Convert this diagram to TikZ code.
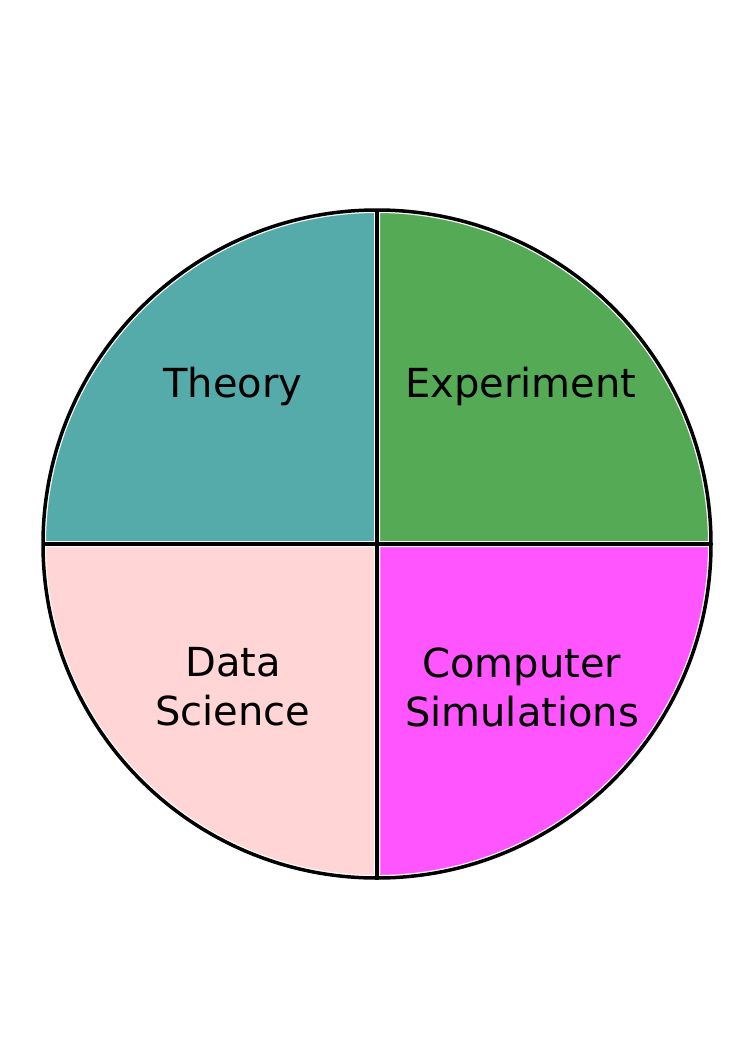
\documentclass[tikz,border=0pt]{standalone}
\usepackage{fontspec}
\setmainfont{DejaVu Sans}
\usetikzlibrary{calc}
\definecolor{theorycol}{HTML}{55AAAA}
\definecolor{expcol}{HTML}{55AA55}
\definecolor{datacol}{HTML}{FFD5D5}
\definecolor{simcol}{HTML}{FF55FF}

\begin{document}
\begin{tikzpicture}[x=1pt, y=-1pt,
        quarter/.style={draw=white, line width=6pt, line join=round},
        rim/.style={draw=black, line width=3.5pt},
        field/.style={align=center, font=\fontsize{40}{49}\selectfont}
    ]
        \useasboundingbox (0,0) rectangle (745,1053);
        \coordinate (c) at (377,544);
        % the four quarters
        \filldraw[quarter, fill=theorycol] (c) -- ++(-334,0) arc[start angle=180, end angle=270, radius=334] -- cycle;
        \filldraw[quarter, fill=expcol] (c) -- ++(0,-334) arc[start angle=270, end angle=360, radius=334] -- cycle;
        \filldraw[quarter, fill=simcol] (c) -- ++(334,0) arc[start angle=0, end angle=90, radius=334] -- cycle;
        \filldraw[quarter, fill=datacol] (c) -- ++(0,334) arc[start angle=90, end angle=180, radius=334] -- cycle;
        % outline and cross
        \draw[rim] (c) circle[radius=334];
        \draw[rim] ($(c)+(-334,0)$) -- ($(c)+(334,0)$);
        \draw[rim] ($(c)+(0,-334)$) -- ($(c)+(0,334)$);
        % labels
        \node[field] (theory) at (233,386) {Theory};
        \node[field] (experiment) at (521,386) {Experiment};
        \node[field] (datasci) at (233,687) {Data\\Science};
        \node[field] (compsim) at (522,687) {Computer\\Simulations};

    \end{tikzpicture}
\end{document}
